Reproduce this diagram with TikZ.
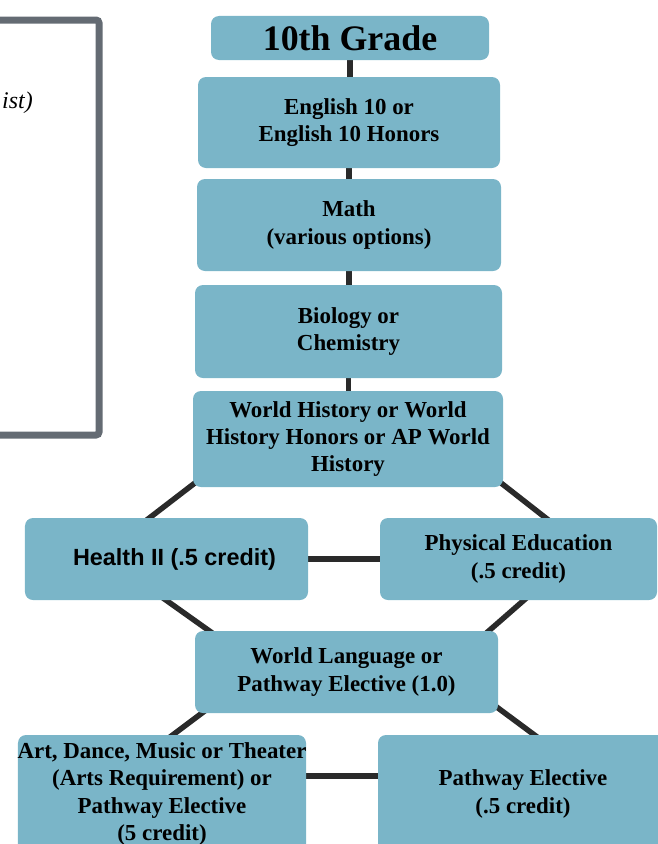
\documentclass[tikz,border=0pt]{standalone}
\usepackage{fontspec}
\setmainfont{Liberation Serif}
\newfontfamily\sansbold{Liberation Sans}
\usetikzlibrary{backgrounds}
\definecolor{boxblue}{RGB}{122,181,200}
\definecolor{linkgray}{RGB}{42,42,42}
\definecolor{framegray}{RGB}{100,107,115}

\begin{document}
\begin{tikzpicture}[
	x=1bp, y=-1bp,
	font=\fontsize{23}{27.5}\selectfont\bfseries,
	cb/.style={fill=boxblue, rounded corners=8bp, align=center, inner sep=0pt},
	gb/.style={cb, font=\fontsize{36}{40}\selectfont\bfseries},
	ln/.style={draw=linkgray, line width=5.5bp},
	]
\useasboundingbox (0,0) rectangle (658,844);
% frame on the left, cut by the page edge
\draw [draw=framegray, line width=7bp, rounded corners=3bp] (-20,20) rectangle (99,435);
\node [font=\fontsize{24}{28}\selectfont\mdseries\itshape, anchor=base east, inner xsep=0pt] (note) at (33,108) {ist)};
% courses
\node [gb, minimum width=278bp, minimum height=44bp] (grade) at (350,38) {10th Grade};
\node [cb, minimum width=302bp, minimum height=91bp] (eng) at (349,122.5) {English 10 or\\English 10 Honors};
\node [cb, minimum width=304bp, minimum height=92bp] (math) at (349,225) {Math\\(various options)};
\node [cb, minimum width=307bp, minimum height=93bp] (bio) at (348.5,331.5) {Biology or\\Chemistry};
\node [cb, minimum width=310bp, minimum height=96bp] (hist) at (348,439) {World History or World\\History Honors or AP World\\History};
\node [cb, minimum width=283bp, minimum height=82bp, font=\fontsize{23.5}{28}\selectfont\sansbold\bfseries] (health) at (166.5,559) {\hspace*{16bp}Health II (.5 credit)};
\node [cb, minimum width=277bp, minimum height=82bp] (pe) at (518.5,559) {Physical Education\\(.5 credit)};
\node [cb, minimum width=303bp, minimum height=82bp] (lang) at (346.5,672) {World Language or\\Pathway Elective (1.0)};
\node [cb, minimum width=288bp, minimum height=118bp] (arts) at (162,794) {\makebox[0pt]{Art, Dance, Music or Theater}\\(Arts Requirement) or\\Pathway Elective\\(5 credit)};
\node [cb, minimum width=290bp, minimum height=118bp] (path) at (523,794) {Pathway Elective\\(.5 credit)};
% connectors
\begin{scope}[on background layer]
	\foreach \a/\b in {grade/eng, eng/math, math/bio, bio/hist}
		\draw [ln] (\a) -- (\a |- \b);
	\draw [ln] ([shift={(7,-8)}]hist.south west) -- ([shift={(-26,7)}]health.north);
	\draw [ln] ([shift={(-7,-8)}]hist.south east) -- ([shift={(36,7)}]pe.north);
	\draw [ln] (health) -- (pe);
	\draw [ln] ([shift={(-6,-4)}]health.south) -- ([shift={(20,4)}]lang.north west);
	\draw [ln] ([shift={(10,-4)}]pe.south) -- ([shift={(-15,5)}]lang.north east);
	\draw [ln] ([shift={(15,-6)}]lang.south west) -- ([shift={(3,6)}]arts.north);
	\draw [ln] ([shift={(-8,-11)}]lang.south east) -- ([shift={(22,8)}]path.north);
	\draw [ln] ([yshift=18bp]arts.center) -- ([yshift=18bp]path.center);
\end{scope}
\end{tikzpicture}
\end{document}
